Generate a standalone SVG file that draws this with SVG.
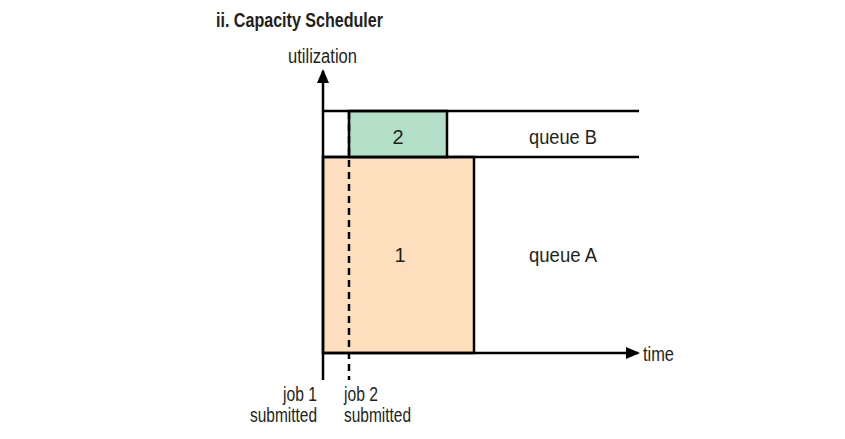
<svg xmlns="http://www.w3.org/2000/svg" width="845" height="439" viewBox="0 0 845 439">
<style>
text{font-family:"Liberation Sans",Arial,sans-serif;fill:#231f20;font-size:20px}
.ln{stroke:#000;stroke-width:2.5;fill:none}
</style>
<defs>
<marker id="ah" markerWidth="14" markerHeight="14" refX="12" refY="7" orient="auto" markerUnits="userSpaceOnUse" viewBox="0 0 14 14">
<path d="M0,1 L14,7 L0,13 z" fill="#000"/>
</marker>
</defs>
<rect width="845" height="439" fill="#fff"/>
<text x="216" y="27" font-weight="bold" font-size="21" textLength="167" lengthAdjust="spacingAndGlyphs">ii. Capacity Scheduler</text>
<text x="288" y="63" textLength="69" lengthAdjust="spacingAndGlyphs">utilization</text>
<g id="queueA">
<rect x="323" y="157" width="151" height="196" fill="#fddfbd" stroke="#000" stroke-width="2.5"/>
<text x="400" y="262" text-anchor="middle">1</text>
<text x="563" y="262" text-anchor="middle" textLength="68" lengthAdjust="spacingAndGlyphs">queue A</text>
</g>
<g id="queueB">
<rect x="349" y="111" width="98" height="46" fill="#b2dfc6" stroke="#000" stroke-width="2.5"/>
<text x="398" y="144" text-anchor="middle">2</text>
<text x="563" y="144" text-anchor="middle" textLength="68" lengthAdjust="spacingAndGlyphs">queue B</text>
</g>
<g id="connectors">
<line class="ln" x1="323" y1="111" x2="639" y2="111"/>
<line class="ln" x1="323" y1="157" x2="639" y2="157"/>
<line class="ln" x1="323" y1="380" x2="323" y2="71" marker-end="url(#ah)"/>
<line class="ln" x1="323" y1="353" x2="638" y2="353" marker-end="url(#ah)"/>
<line class="ln" x1="349" y1="112" x2="349" y2="380" stroke-dasharray="7,5"/>
</g>
<text x="643" y="361" textLength="31" lengthAdjust="spacingAndGlyphs">time</text>
<text x="317" y="401" text-anchor="end" textLength="34" lengthAdjust="spacingAndGlyphs">job 1</text>
<text x="317" y="422" text-anchor="end" textLength="67" lengthAdjust="spacingAndGlyphs">submitted</text>
<text x="344" y="401" textLength="34" lengthAdjust="spacingAndGlyphs">job 2</text>
<text x="344" y="422" textLength="67" lengthAdjust="spacingAndGlyphs">submitted</text>
</svg>
